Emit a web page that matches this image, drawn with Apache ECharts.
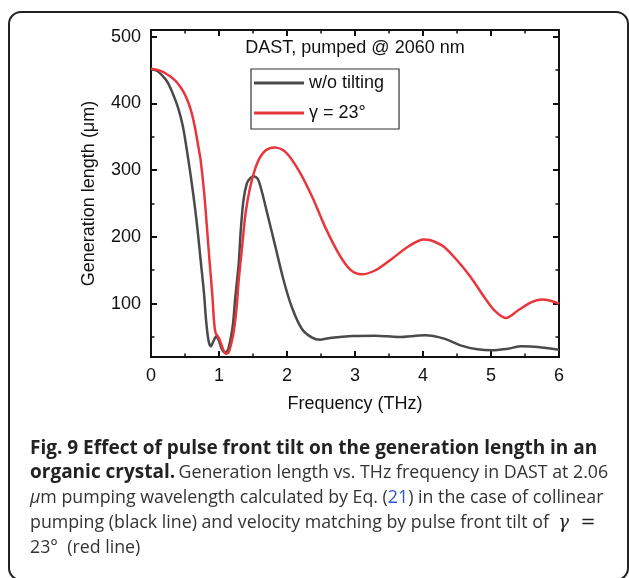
<!DOCTYPE html>
<html><head><meta charset="utf-8">
<script src="https://cdn.jsdelivr.net/npm/echarts@6/dist/echarts.min.js"></script>
<style>html,body{margin:0;padding:0;background:#fff}#c{width:629px;height:578px}</style>
</head><body><div id="c"></div>
<script>
// ---- data ----
const seriesNames = ['w/o tilting', 'γ = 23°'];
const freqNoTilt = [0,0.1,0.23,0.32,0.40,0.47,0.55,0.62,0.68,0.73,0.78,0.81,0.845,0.878,0.92,0.96,1.0,1.04,1.08,1.13,1.2,1.24,1.29,1.32,1.36,1.41,1.46,1.51,1.58,1.71,1.83,1.95,2.07,2.22,2.37,2.49,2.66,2.96,3.3,3.64,4.03,4.31,4.55,4.80,5.02,5.25,5.45,5.69,6.0];
const lenNoTilt  = [452,448,434,415,393,365,315,265,215,165,115,75,45,36,44,51,44,32,27,30,65,110,160,210,255,280,288,291,285,235,185,135,95,62,49,46,49,51.5,52,50,52.5,47.5,37.5,31.5,30,32.5,36,35,31];
const freqTilt = [0,0.1,0.2,0.35,0.45,0.5,0.55,0.6,0.65,0.7,0.73,0.78,0.82,0.86,0.90,0.93,0.95,0.975,1.0,1.03,1.07,1.10,1.14,1.18,1.22,1.26,1.29,1.34,1.39,1.46,1.56,1.68,1.82,1.98,2.17,2.37,2.56,2.76,2.93,3.1,3.3,3.54,3.79,4.01,4.11,4.31,4.5,4.7,4.9,5.05,5.22,5.4,5.59,5.74,5.89,6.0];
const lenTilt  = [452,450,446,435,422,413,401,385,362,333,315,268,218,165,115,70,56,52,48,40,29,25,27,40,60,95,135,185,235,275,310,329,334,327,300,260,215,175,151,144,150,167,186,196,195,185,165,140,110,90,78.5,90,102,106,104,100];
const xTickLabels = [0,1,2,3,4,5,6];
const yTicks = [100,200,300,400,500];
const yMinorTicks = [50,150,250,350,450];
const plotTitle = 'DAST, pumped @ 2060 nm';
const xName = 'Frequency (THz)';
const yName = 'Generation length (μm)';

const chart = echarts.init(document.getElementById('c'), null, {renderer:'canvas'});
const axisColor = '#111';
const fontFam = 'Liberation Sans, Arial, sans-serif';
const capFont = 'Open Sans';
const capSize = 17.8;
const capBold = 19;

function xAx(pos, showLabel){
  return {
    type:'value', min:0, max:6, interval:1, position:pos,
    axisLine:{show:true, onZero:false, lineStyle:{color:axisColor, width:2}},
    axisTick:{show:true, inside:true, length:6, lineStyle:{color:axisColor, width:2}},
    minorTick:{show:true, splitNumber:2, length:3.5, lineStyle:{color:axisColor, width:1.5}},
    splitLine:{show:false}, minorSplitLine:{show:false},
    axisLabel:{show:showLabel, fontSize:18, color:axisColor, margin:10, fontFamily:fontFam,
      formatter:(v)=> xTickLabels.includes(v) ? String(v) : ''},
    name: showLabel ? xName : '', nameLocation:'middle', nameGap:38,
    nameTextStyle:{fontSize:18, color:axisColor, fontFamily:fontFam}
  };
}
function yAx(pos, ticks, len, showLabel, withName){
  return {
    type:'value', min:20, max:510, position:pos,
    axisLine:{show:true, onZero:false, lineStyle:{color:axisColor, width:2}},
    axisTick:{show:true, inside:true, length:len, customValues:ticks, lineStyle:{color:axisColor, width: len>5?2:1.5}},
    splitLine:{show:false},
    axisLabel:{show:showLabel, customValues:ticks, fontSize:18, color:axisColor, margin:10, fontFamily:fontFam},
    name: withName ? yName : '', nameLocation:'middle', nameGap:53,
    nameTextStyle:{fontSize:18, color:axisColor, fontFamily:fontFam}
  };
}

const option = {
  backgroundColor:'#fff',
  animation:false,
  grid:{left:151, right:70, top:30, bottom:221, containLabel:false},
  xAxis:[xAx('bottom', true), xAx('top', false)],
  yAxis:[
    yAx('left', yTicks, 6, true, true),
    yAx('right', yTicks, 6, false, false),
    yAx('left', yMinorTicks, 3.5, false, false),
    yAx('right', yMinorTicks, 3.5, false, false)
  ],
  legend:{
    orient:'vertical', left:251, top:69,
    data:[{name:seriesNames[0], icon:'rect'},{name:seriesNames[1], icon:'rect'}],
    itemWidth:50, itemHeight:3, itemGap:10, itemTextGap:10,
    borderColor:'#333', borderWidth:1.2, padding:[4,15,6,3],
    textStyle:{fontSize:18, color:axisColor, fontFamily:fontFam, lineHeight:20}
  },
  series:[
    {name:seriesNames[0], type:'line', data:freqNoTilt.map((f,i)=>[f,lenNoTilt[i]]),
     showSymbol:false, smooth:0.3,
     lineStyle:{color:'#4a4a4a', width:2.5}, itemStyle:{color:'#4a4a4a'}, z:3},
    {name:seriesNames[1], type:'line', data:freqTilt.map((f,i)=>[f,lenTilt[i]]),
     showSymbol:false, smooth:0.3,
     lineStyle:{color:'#e8363c', width:2.5}, itemStyle:{color:'#e8363c'}, z:4}
  ],
  graphic:[
    {type:'rect', shape:{x:9, y:12, width:619, height:568, r:12},
     style:{fill:'none', stroke:'#222', lineWidth:2}, silent:true, z:-1},
    {type:'text', x:355, y:48, style:{text:plotTitle, fontSize:18, fontFamily:fontFam, fill:axisColor, align:'center', verticalAlign:'middle'}},
    {type:'text', x:30, y:449, style:{text:'{b|Fig. 9 Effect of pulse front tilt on the generation length in an}', verticalAlign:'middle',
      rich:{b:{fontFamily:capFont, fontWeight:'bold', fontSize:capBold, fill:'#222'}}}},
    {type:'text', x:30, y:473, style:{text:'{b|organic crystal.} {r|Generation length vs. THz frequency in DAST at 2.06}', verticalAlign:'middle',
      rich:{b:{fontFamily:capFont, fontWeight:'bold', fontSize:capBold, fill:'#222'}, r:{fontFamily:capFont, fontSize:capSize, fill:'#333'}}}},
    {type:'text', x:30, y:498, style:{text:'{i|μ}{r|m pumping wavelength calculated by Eq. (}{l|21}{r|) in the case of collinear}', verticalAlign:'middle',
      rich:{i:{fontFamily:capFont, fontStyle:'italic', fontSize:capSize, fill:'#333'}, r:{fontFamily:capFont, fontSize:capSize, fill:'#333'}, l:{fontFamily:capFont, fontSize:capSize, fill:'#3355cc'}}}},
    {type:'text', x:30, y:523, style:{text:'{r|pumping (black line) and velocity matching by pulse front tilt of  }{g|γ}{m|  =}', verticalAlign:'middle',
      rich:{r:{fontFamily:capFont, fontSize:capSize, fill:'#333'}, g:{fontFamily:'DejaVu Serif', fontStyle:'italic', fontSize:18, fill:'#222'}, m:{fontFamily:'DejaVu Serif', fontSize:18, fill:'#222'}}}},
    {type:'text', x:30, y:548, style:{text:'{r|23°  (red line)}', verticalAlign:'middle',
      rich:{r:{fontFamily:capFont, fontSize:capSize, fill:'#333'}}}}
  ]
};
chart.setOption(option);
</script></body></html>
